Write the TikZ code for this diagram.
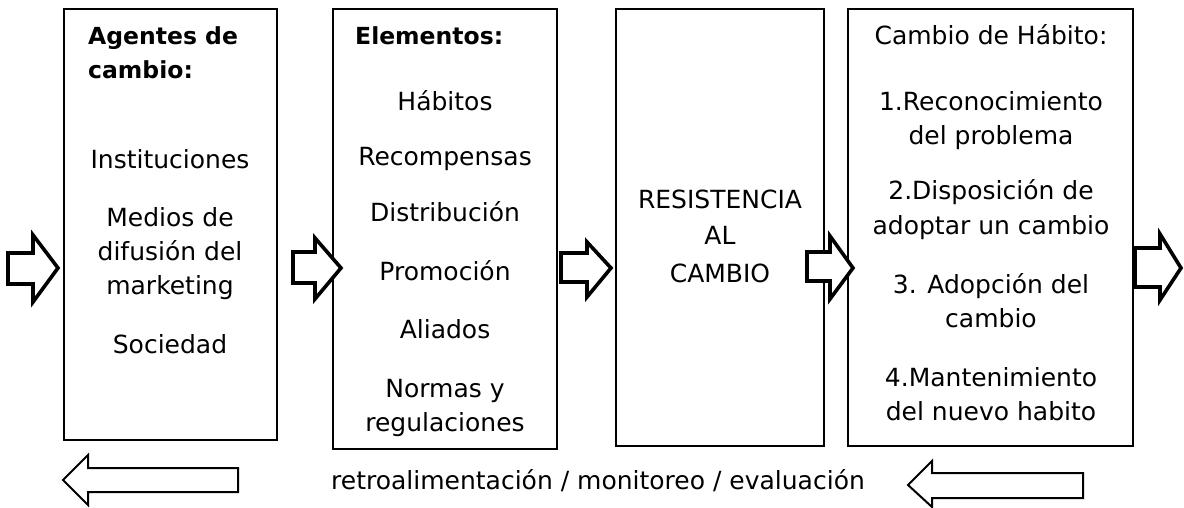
\documentclass[tikz,border=0pt]{standalone}
\usepackage{fontspec}
\setmainfont{DejaVu Sans}
\begin{document}
\begin{tikzpicture}[x=1pt,y=-1pt,
  box/.style={draw, line width=1.4pt, rectangle, inner sep=0pt},
  txt/.style={anchor=base, inner sep=0pt, font=\fontsize{25}{30}\selectfont},
  hdr/.style={anchor=base west, inner sep=0pt, font=\fontsize{23.5}{30}\selectfont\bfseries},
  blk/.style={draw, line width=3.6pt, line join=miter, fill=white},
  blkthin/.style={draw, line width=2pt, line join=miter, fill=white}]
\useasboundingbox (0,0) rectangle (1184,508);
% boxes
\node[box, minimum width=213pt, minimum height=431pt] (b1) at (170.5,224.5) {};
\node[box, minimum width=224pt, minimum height=440pt] (b2) at (445,229) {};
\node[box, minimum width=208pt, minimum height=437pt] (b3) at (720,227.5) {};
\node[box, minimum width=285pt, minimum height=437pt] (b4) at (990.5,227.5) {};
% right block arrows
\draw[blk] (8,253) -- (33,253) -- (33,235) -- (58,268) -- (33,302) -- (33,284) -- (8,284) -- cycle;
\draw[blk] (293,252) -- (315,252) -- (315,238) -- (341,268) -- (315,299) -- (315,283) -- (293,283) -- cycle;
\draw[blk] (561,253) -- (587,253) -- (587,242) -- (611,268) -- (587,297) -- (587,282) -- (561,282) -- cycle;
\draw[blk] (807,252) -- (830,252) -- (830,236) -- (853,268) -- (830,299) -- (830,281) -- (807,281) -- cycle;
\draw[blk] (1135,248) -- (1160,248) -- (1160,234) -- (1181,268) -- (1160,300) -- (1160,287) -- (1135,287) -- cycle;
% bottom left arrows
\draw[blkthin] (238,468) -- (88,468) -- (88,455) -- (63,480) -- (88,505) -- (88,492) -- (238,492) -- cycle;
\draw[blkthin] (1083,473) -- (932,473) -- (932,461) -- (908,485) -- (932,507) -- (932,498) -- (1083,498) -- cycle;
% box 1 text
\node[hdr] (h1a) at (88,45) {Agentes de};
\node[hdr] (h1b) at (88,79) {cambio:};
\node[txt] (t1a) at (170,168) {Instituciones};
\node[txt] (t1b) at (170,226) {Medios de};
\node[txt] (t1c) at (170,260) {difusión del};
\node[txt] (t1d) at (170,294) {marketing};
\node[txt] (t1e) at (170,353) {Sociedad};
% box 2 text
\node[hdr] (h2) at (355,45) {Elementos:};
\node[txt] (t2a) at (445,111) {Hábitos};
\node[txt] (t2b) at (445,166) {Recompensas};
\node[txt] (t2c) at (445,221) {Distribución};
\node[txt] (t2d) at (445,280) {Promoción};
\node[txt] (t2e) at (445,338) {Aliados};
\node[txt] (t2f) at (445,397) {Normas y};
\node[txt] (t2g) at (445,431) {regulaciones};
% box 3 text
\node[txt] (t3a) at (720,208) {RESISTENCIA};
\node[txt] (t3b) at (720,244) {AL};
\node[txt] (t3c) at (720,282) {CAMBIO};
% box 4 text
\node[txt] (h4) at (991,45) {Cambio de Hábito:};
\node[txt] (t4a) at (991,111) {1.Reconocimiento};
\node[txt] (t4b) at (991,145) {del problema};
\node[txt] (t4c) at (991,200) {2.Disposición de};
\node[txt] (t4d) at (991,234) {adoptar un cambio};
\node[txt] (t4e) at (991,293) {3. Adopción del};
\node[txt] (t4f) at (991,327) {cambio};
\node[txt] (t4g) at (991,386) {4.Mantenimiento};
\node[txt] (t4h) at (991,420) {del nuevo habito};
% bottom text
\node[txt] (fb) at (598,489) {retroalimentación / monitoreo / evaluación};
\end{tikzpicture}
\end{document}
